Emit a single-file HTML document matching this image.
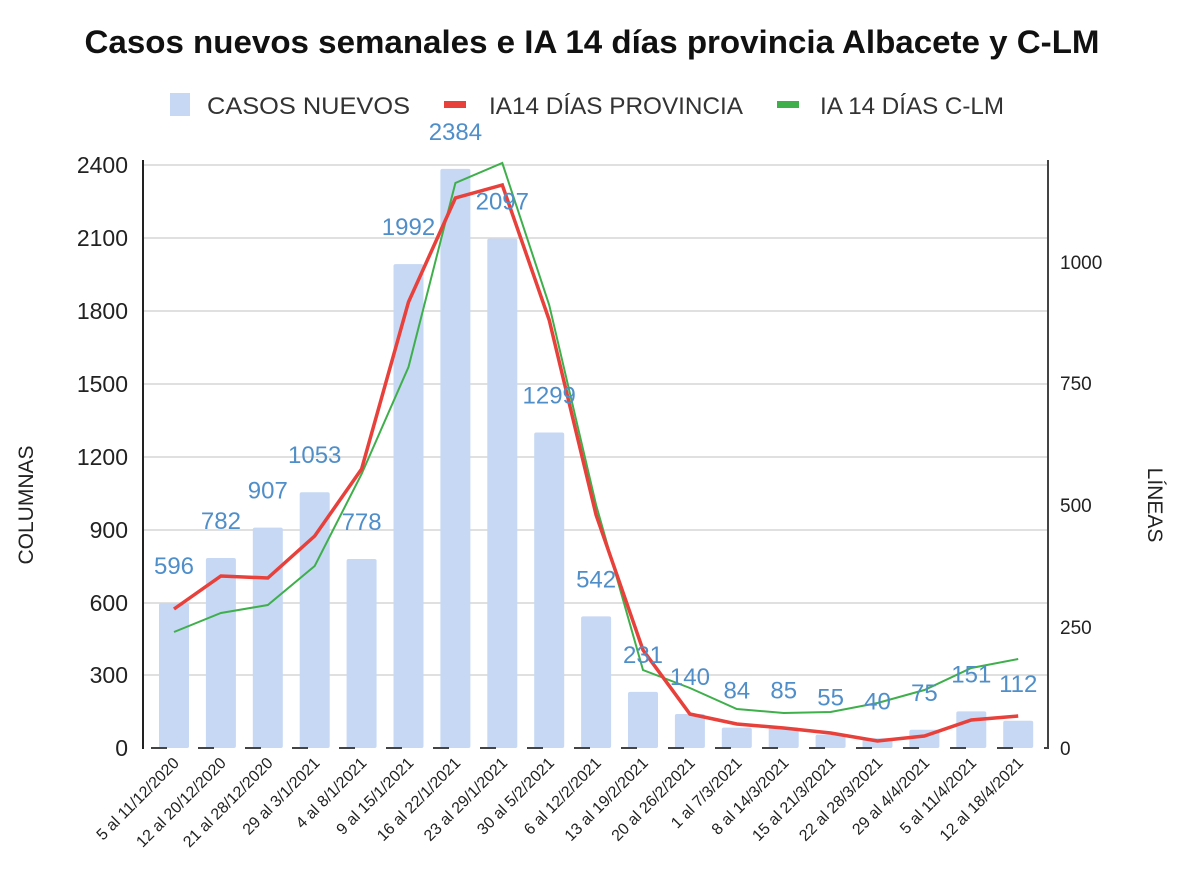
<!DOCTYPE html>
<html><head><meta charset="utf-8"><style>
body{margin:0;background:#fff;}
svg text{font-family:"Liberation Sans",sans-serif;}
</style></head><body>
<svg width="1200" height="878" xmlns="http://www.w3.org/2000/svg">
<text x="592" y="53" text-anchor="middle" font-size="32" font-weight="bold" fill="#111" textLength="1015" lengthAdjust="spacingAndGlyphs">Casos nuevos semanales e IA 14 días provincia Albacete y C-LM</text>
<rect x="170" y="93" width="20" height="23" fill="#c6d8f4"/>
<text x="207" y="114" font-size="24" fill="#333" textLength="203" lengthAdjust="spacingAndGlyphs">CASOS NUEVOS</text>
<rect x="444" y="101" width="22" height="7" fill="#e8403a"/>
<text x="489" y="114" font-size="24" fill="#333" textLength="254" lengthAdjust="spacingAndGlyphs">IA14 DÍAS PROVINCIA</text>
<rect x="777" y="101" width="22" height="7" fill="#3faf4c"/>
<text x="820" y="114" font-size="24" fill="#333" textLength="184" lengthAdjust="spacingAndGlyphs">IA 14 DÍAS C-LM</text>
<g stroke="#d6d6d6" stroke-width="1.5">
<line x1="143" x2="1048" y1="165" y2="165"/><line x1="143" x2="1048" y1="238" y2="238"/>
<line x1="143" x2="1048" y1="311" y2="311"/><line x1="143" x2="1048" y1="384" y2="384"/>
<line x1="143" x2="1048" y1="457" y2="457"/><line x1="143" x2="1048" y1="530" y2="530"/>
<line x1="143" x2="1048" y1="603" y2="603"/><line x1="143" x2="1048" y1="675" y2="675"/>
</g>
<g font-size="23" fill="#222" text-anchor="end">
<text x="128" y="756">0</text><text x="128" y="683">300</text><text x="128" y="611">600</text>
<text x="128" y="538">900</text><text x="128" y="465">1200</text><text x="128" y="392">1500</text>
<text x="128" y="319">1800</text><text x="128" y="246">2100</text><text x="128" y="173">2400</text>
</g>
<g font-size="19" fill="#222">
<text x="1060" y="755">0</text><text x="1060" y="634">250</text><text x="1060" y="512">500</text>
<text x="1060" y="390">750</text><text x="1060" y="269">1000</text>
</g>
<text transform="translate(33,505) rotate(-90)" text-anchor="middle" font-size="21" fill="#222">COLUMNAS</text>
<text transform="translate(1148,505) rotate(90)" text-anchor="middle" font-size="21" fill="#222">LÍNEAS</text>
<g fill="#c6d8f4" id="bars"></g>
<line x1="143" y1="160" x2="143" y2="749" stroke="#222" stroke-width="2"/>
<line x1="1048" y1="160" x2="1048" y2="749" stroke="#444" stroke-width="2"/>
<line x1="143" y1="748" x2="1048" y2="748" stroke="#444" stroke-width="2" stroke-dasharray="16,31" stroke-dashoffset="-8"/>
<polyline id="g" fill="none" stroke="#3faf4c" stroke-width="2"/>
<polyline id="r" fill="none" stroke="#e8403a" stroke-width="3.5"/>
<g id="labels" font-size="24" fill="#4f8ec9" text-anchor="middle"></g>
<g id="xl" font-size="16" fill="#222" text-anchor="end"></g>
</svg>
<script>
var v=[596,782,907,1053,778,1992,2384,2097,1299,542,231,140,84,85,55,40,75,151,112];
var d=["5 al 11/12/2020","12 al 20/12/2020","21 al 28/12/2020","29 al 3/1/2021","4 al 8/1/2021","9 al 15/1/2021","16 al 22/1/2021","23 al 29/1/2021","30 al 5/2/2021","6 al 12/2/2021","13 al 19/2/2021","20 al 26/2/2021","1 al 7/3/2021","8 al 14/3/2021","15 al 21/3/2021","22 al 28/3/2021","29 al 4/4/2021","5 al 11/4/2021","12 al 18/4/2021"];
var ry=[609,576,578,536,469,302,198,185,320,515,650,714,724,728,733,741,736,720,716];
var gy=[632,613,605,566,474,367,183,163,305,505,670,688,709,713,712,703,690,668,659];
var ns="http://www.w3.org/2000/svg",b=document.getElementById("bars"),l=document.getElementById("labels"),x=document.getElementById("xl");
var rp=[],gp=[];
for(var i=0;i<19;i++){var c=174+i*46.9,h=v[i]*583/2400;
var r=document.createElementNS(ns,"rect");r.setAttribute("x",c-15);r.setAttribute("y",748-h);r.setAttribute("width",30);r.setAttribute("height",h);r.setAttribute("rx",2);b.appendChild(r);
var t=document.createElementNS(ns,"text");t.setAttribute("x",c);t.setAttribute("y",748-h-29);t.textContent=v[i];l.appendChild(t);
var u=document.createElementNS(ns,"text");u.setAttribute("transform","translate("+(c+6)+",764) rotate(-45)");u.textContent=d[i];x.appendChild(u);
rp.push(c+","+ry[i]);gp.push(c+","+gy[i]);}
document.getElementById("r").setAttribute("points",rp.join(" "));
document.getElementById("g").setAttribute("points",gp.join(" "));
</script>
</body></html>
